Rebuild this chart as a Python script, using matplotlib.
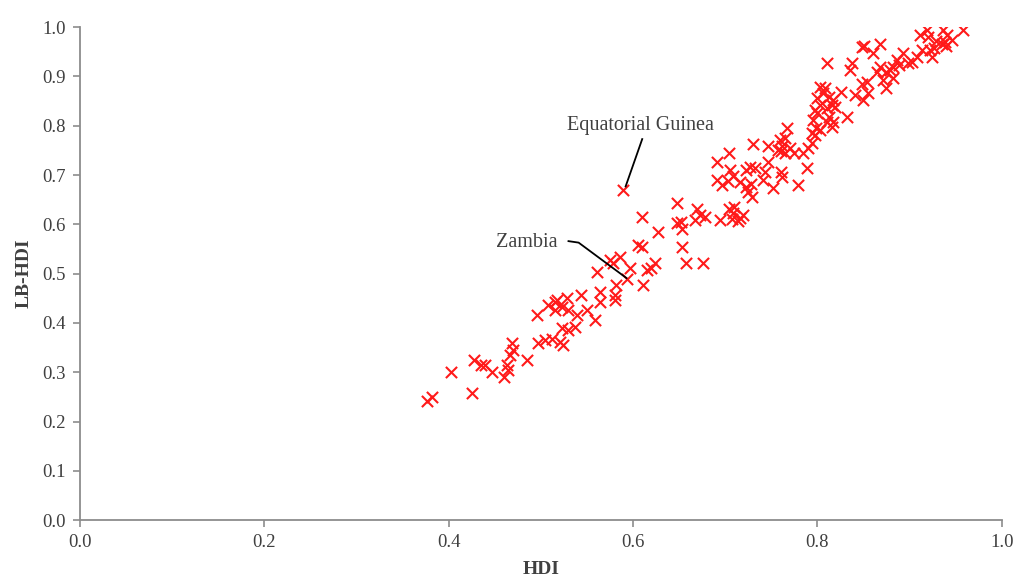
import matplotlib
matplotlib.use("Agg")
import matplotlib.pyplot as plt

hdi = [0.377, 0.382, 0.402, 0.425, 0.427, 0.435, 0.439, 0.447, 0.460, 0.463,
       0.464, 0.467, 0.470, 0.469, 0.485, 0.496, 0.497, 0.504, 0.512, 0.521,
       0.524, 0.508, 0.515, 0.518, 0.515, 0.523, 0.528, 0.529, 0.523, 0.529,
       0.537, 0.539, 0.544, 0.550, 0.559, 0.561, 0.564, 0.564, 0.575, 0.578,
       0.586, 0.582, 0.580, 0.581, 0.593, 0.597, 0.589, 0.605, 0.610, 0.611,
       0.615, 0.619, 0.624, 0.610, 0.627, 0.648, 0.648, 0.652, 0.653, 0.653,
       0.658, 0.676, 0.669, 0.673, 0.667, 0.678, 0.694, 0.704, 0.708, 0.710,
       0.707, 0.716, 0.719, 0.714, 0.691, 0.704, 0.730, 0.746, 0.759, 0.762,
       0.767, 0.761, 0.765, 0.757, 0.775, 0.784, 0.790, 0.794, 0.797, 0.799,
       0.800, 0.803, 0.789, 0.779, 0.761, 0.762, 0.752, 0.743, 0.746, 0.732,
       0.727, 0.723, 0.705, 0.708, 0.703, 0.716, 0.723, 0.728, 0.725, 0.729,
       0.741, 0.697, 0.691, 0.765, 0.770, 0.803, 0.816, 0.817, 0.811, 0.813,
       0.795, 0.794, 0.832, 0.797, 0.810, 0.819, 0.803, 0.808, 0.806, 0.800,
       0.813, 0.817, 0.826, 0.816, 0.811, 0.838, 0.835, 0.848, 0.851, 0.860,
       0.868, 0.854, 0.848, 0.855, 0.841, 0.849, 0.868, 0.875, 0.879, 0.882,
       0.871, 0.875, 0.882, 0.886, 0.893, 0.898, 0.903, 0.908, 0.914, 0.919,
       0.920, 0.929, 0.936, 0.941, 0.946, 0.958, 0.938, 0.940, 0.935, 0.922,
       0.927, 0.924, 0.911, 0.889, 0.865]
lb_hdi = [0.241, 0.249, 0.300, 0.258, 0.325, 0.314, 0.314, 0.300, 0.290, 0.314,
          0.304, 0.335, 0.345, 0.359, 0.325, 0.416, 0.359, 0.365, 0.367, 0.361,
          0.355, 0.436, 0.442, 0.446, 0.426, 0.432, 0.450, 0.426, 0.389, 0.385,
          0.391, 0.416, 0.456, 0.426, 0.406, 0.503, 0.462, 0.442, 0.527, 0.521,
          0.533, 0.477, 0.456, 0.446, 0.489, 0.511, 0.669, 0.558, 0.554, 0.477,
          0.507, 0.511, 0.521, 0.615, 0.584, 0.643, 0.602, 0.604, 0.590, 0.554,
          0.521, 0.521, 0.631, 0.619, 0.609, 0.615, 0.609, 0.631, 0.623, 0.635,
          0.611, 0.613, 0.619, 0.606, 0.726, 0.744, 0.763, 0.759, 0.771, 0.759,
          0.795, 0.748, 0.744, 0.750, 0.744, 0.744, 0.755, 0.765, 0.781, 0.795,
          0.826, 0.842, 0.714, 0.680, 0.706, 0.696, 0.673, 0.706, 0.726, 0.714,
          0.716, 0.710, 0.710, 0.698, 0.688, 0.686, 0.675, 0.682, 0.665, 0.655,
          0.690, 0.680, 0.690, 0.775, 0.755, 0.791, 0.797, 0.807, 0.807, 0.817,
          0.811, 0.785, 0.817, 0.832, 0.836, 0.838, 0.878, 0.876, 0.866, 0.856,
          0.858, 0.852, 0.868, 0.842, 0.927, 0.927, 0.913, 0.959, 0.961, 0.947,
          0.966, 0.888, 0.884, 0.866, 0.862, 0.852, 0.919, 0.909, 0.913, 0.919,
          0.892, 0.876, 0.897, 0.933, 0.947, 0.927, 0.929, 0.939, 0.953, 0.994,
          0.980, 0.972, 0.994, 0.984, 0.974, 0.994, 0.970, 0.961, 0.966, 0.953,
          0.957, 0.939, 0.984, 0.923, 0.909]

ticks = [0.0, 0.1, 0.2, 0.3, 0.4, 0.5, 0.6, 0.7, 0.8, 0.9, 1.0]
xticks = [0.0, 0.2, 0.4, 0.6, 0.8, 1.0]

serif = ["Liberation Serif", "DejaVu Serif"]
plt.rcParams["font.family"] = serif

fig = plt.figure(figsize=(10.19, 5.78), dpi=100)
ax = fig.add_axes([0.0785, 0.100, 0.9045, 0.853])

ax.scatter(hdi, lb_hdi, marker="x", color="#ff1a1a", s=65, linewidths=1.5, zorder=3)

ax.set_xlim(0, 1.0)
ax.set_ylim(0, 1.0)
ax.set_xticks(xticks)
ax.set_yticks(ticks)
ax.set_xticklabels([f"{t:.1f}" for t in xticks])
ax.set_yticklabels([f"{t:.1f}" for t in ticks])

gray = "#8c8c8c"
for s in ["top", "right"]:
    ax.spines[s].set_visible(False)
for s in ["left", "bottom"]:
    ax.spines[s].set_color(gray)
    ax.spines[s].set_linewidth(1.3)
ax.tick_params(axis="both", direction="out", length=5, width=1.2, color=gray,
               labelsize=13.5, labelcolor="#404040", pad=5)

ax.set_xlabel("HDI", fontsize=14, fontweight="bold", color="#404040", labelpad=7)
ax.set_ylabel("LB-HDI", fontsize=14, fontweight="bold", color="#404040", labelpad=7)

# annotations
ax.text(0.608, 0.800, "Equatorial Guinea", fontsize=14.5, color="#404040",
        ha="center", va="center")
ax.plot([0.610, 0.592], [0.773, 0.677], color="black", lw=1.3, zorder=4)

ax.text(0.485, 0.563, "Zambia", fontsize=14.5, color="#404040",
        ha="center", va="center")
ax.plot([0.530, 0.541, 0.593], [0.566, 0.563, 0.491], color="black", lw=1.3, zorder=4)

fig.savefig("out.png", dpi=100)
